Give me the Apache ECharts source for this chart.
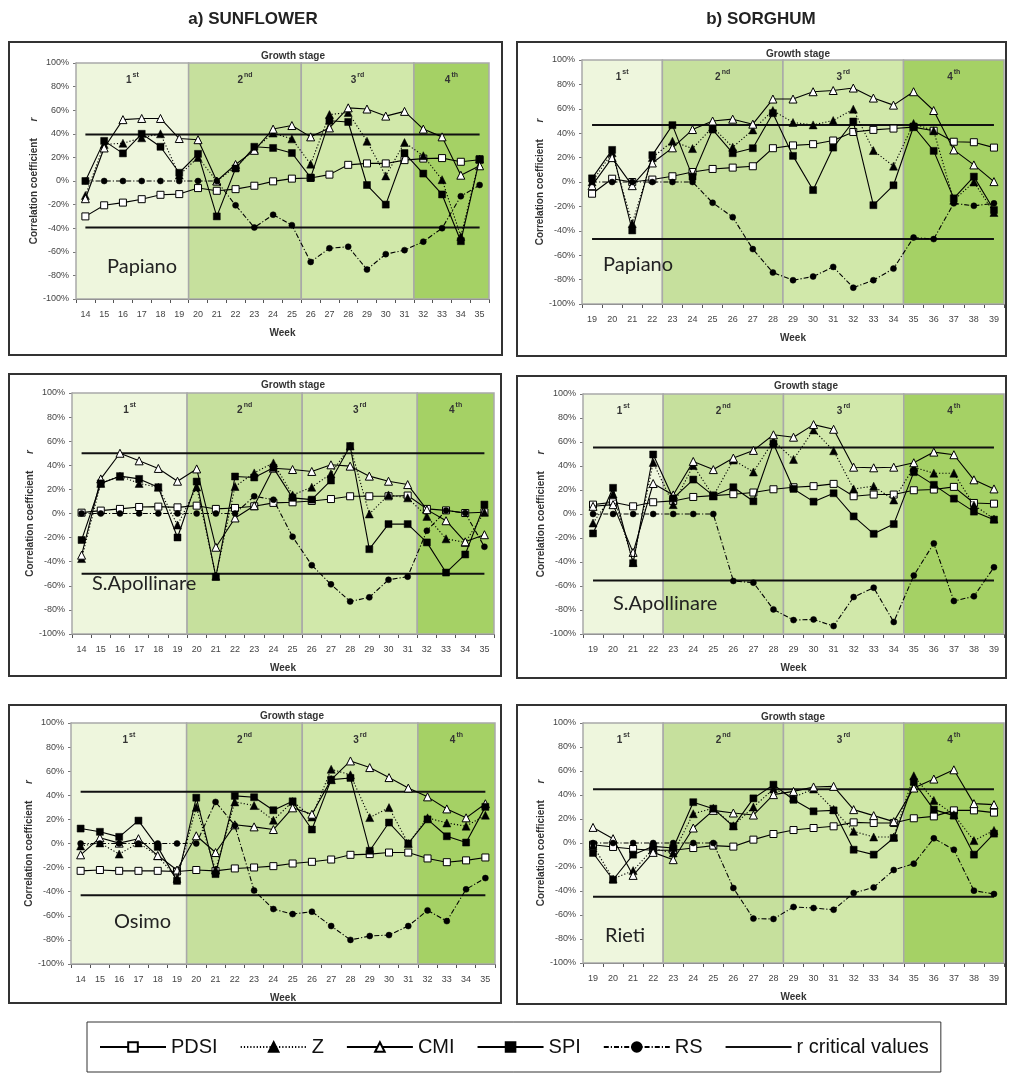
<!DOCTYPE html>
<html><head><meta charset="utf-8">
<script src="https://cdn.jsdelivr.net/npm/echarts@6/dist/echarts.min.js"></script>
<style>html,body{margin:0;padding:0;background:#fff}#c{width:1012px;height:1077px}</style>
</head><body><div id="c"></div><script>
// ---------- categories ----------
const sunflowerWeeks = ['14','15','16','17','18','19','20','21','22','23','24','25','26','27','28','29','30','31','32','33','34','35'];
const sorghumWeeks = ['19','20','21','22','23','24','25','26','27','28','29','30','31','32','33','34','35','36','37','38','39'];
// growth stages: [first week, last week]
const sunflowerStages = [[14,19],[20,25],[26,31],[32,35]];
const sorghumStages = [[19,22],[23,28],[29,34],[35,39]];
const stageNumbers = ['1','2','3','4'];
const stageSuffixes = ['st','nd','rd','th'];
const seriesNames = ['PDSI','Z','CMI','SPI','RS'];
const yTicks = [-100,-80,-60,-40,-20,0,20,40,60,80,100];

// ---------- a) Sunflower – Papiano (%) ----------
const sunPapianoPDSI = [-30,-20.6,-18.3,-15.4,-11.7,-11.1,-6,-8.3,-6.9,-4,-0.3,2,2.6,5.4,13.7,14.9,14.9,17.7,19,19.4,16.3,18];
const sunPapianoZ    = [-12.3,31,32,36.6,40,5,20,0,12,27,40.6,35.7,14.3,56.3,58,33.7,4.3,32.6,21.4,1.1,-47,18.6];
const sunPapianoCMI  = [-15,28,52,53,53,36,35,0,14,26,44,47,37.4,45,62,61,55,59,44,37.4,4.9,12.9];
const sunPapianoSPI  = [0,34,23.4,40,29,7,23,-30,10.6,29,28,23.7,2.9,51,50,-3.4,-20,23.7,6.3,-11.4,-51,18.6];
const sunPapianoRS   = [0,0,0,0,0,0,0,0,-20.6,-39.4,-28.6,-37.4,-68.6,-57,-55.7,-75,-62,-58.6,-51.4,-40,-12.9,-3.4];
const sunPapianoCrit = 39.5;

// ---------- b) Sorghum – Papiano ----------
const sorPapianoPDSI = [-9.6,2.7,0,2,4.7,8.2,10.7,11.8,12.9,27.7,30,31,34,41,42.7,43.8,45,42,33,32.6,28.2];
const sorPapianoZ    = [0,24,-34,20,33.4,27.4,45,28.5,42.7,58.6,48.8,46.8,50.4,59.7,25.8,13,48,42,-15,0,-25];
const sorPapianoCMI  = [-3,20,-3,15.6,28,43,50,51.5,47.4,68,68,74,75,77,68.8,63,74,58.6,26.3,14,0.3];
const sorPapianoSPI  = [3,26.3,-39.7,22,46.6,4.4,43,23.6,27.7,56.4,21.4,-6.6,28.2,49.6,-19,-2.7,45.5,25.5,-13.4,4.4,-23];
const sorPapianoRS   = [0,0,0,0,0,0,-17,-28.8,-55,-74.2,-80.5,-77.5,-69.6,-86.6,-80.5,-71,-45.5,-46.8,-17.5,-19.5,-17.5];
const sorPapianoCrit = 46.8;

// ---------- a) Sunflower – S.Apollinare ----------
const sunApolPDSI = [0.7,2.4,3.8,5.4,5.7,5.1,6.5,3.8,4.6,6,8.8,9.3,10.4,12,14.3,14.3,14.3,14.9,3.8,2.6,0.4,1];
const sunApolZ    = [-37.4,25,31,25,21.8,-9.6,22,-52,22.4,33.7,42,15.4,21.8,33,56,-0.4,15.4,13,-2.4,-21,-24,1];
const sunApolCMI  = [-34.6,28.7,50,43.7,37.4,26.8,37,-28,-3.7,6.5,37.6,36.5,34.9,40.4,39.3,31,26.8,24,3.2,-6,-23.5,-17.6];
const sunApolSPI  = [-22,25,31,28.7,21.8,-19.9,26.5,-52.6,30.7,29.9,37.9,13,11.5,27.4,56,-29.6,-8.8,-8.8,-24,-49,-34,7.4];
const sunApolRS   = [0,0,0,0,0,0,0,0,0,14.3,11.5,-19.3,-42.9,-58.8,-73,-69.6,-55,-52.4,-14.3,2.4,0.4,-27.6];
const sunApolCrit = 50;

// ---------- b) Sorghum – S.Apollinare ----------
const sorApolPDSI = [7.8,9.8,6.4,9.8,10.9,14.2,15.3,16.5,17.9,20.6,22.3,23.2,25.1,14.8,16.2,16.2,19.8,20.4,22.6,9.2,8.6];
const sorApolZ    = [-7.5,16.7,-40.4,43,7.8,40.4,15,45,35,61,45.5,70,52.7,20.9,23.2,11.7,39,34,34,7.5,-4.2];
const sorApolCMI  = [6.4,7.8,-32,25.4,15.9,43.8,37,46.6,53,66,64,74.5,70.6,39,38.5,39,42.7,51.6,49.4,28.5,20.9];
const sorApolSPI  = [-16.2,21.8,-41,49.6,13,28.7,15.3,22.3,10.6,58.6,20.9,10.3,17.3,-2,-16.5,-8.4,34.9,24.3,12.8,2,-4.7];
const sorApolRS   = [0,0,0,0,0,0,0,-55.8,-57.2,-79.5,-88.4,-87.9,-93.4,-69.2,-61.4,-90,-51.3,-24.5,-72.5,-68.6,-44.4];
const sorApolCrit = 55.5;

// ---------- a) Sunflower – Osimo ----------
const sunOsimoPDSI = [-22.7,-22,-22.7,-22.7,-22.7,-23.2,-22,-22.7,-20.7,-19.9,-18.8,-16.6,-15.2,-13.3,-9.4,-8.8,-7.5,-7.5,-12.4,-15.5,-14,-11.6];
const sunOsimoZ    = [-2,0.5,-8.8,0.5,-10.2,-29,30,-22,34.5,31.5,19.3,34.8,22,61.6,57,21.5,29.8,0,21.3,17,14.4,23.5];
const sunOsimoCMI  = [-9.4,4.7,0.3,4,-10,-22,6.4,-7.5,15.5,13.8,11.6,29.6,24.3,53,68.5,63,54.7,46,38.7,28.7,21.3,33];
const sunOsimoSPI  = [12.4,9.7,5.5,19,-2.8,-31,38,-25.4,39.5,38.4,27.6,35,11.6,53,54.4,-6,17.4,0,20,6,0.8,30.4];
const sunOsimoRS   = [0,0,0,0,0,0,0,34.5,15,-39,-54.4,-58.6,-56.6,-68.5,-80,-76.8,-76,-68.5,-55.5,-64.4,-38,-28.7];
const sunOsimoCrit = 43;

// ---------- b) Sorghum – Rieti ----------
const sorRietiPDSI = [-1.4,-3.3,-5,-6.1,-6.1,-4.2,-2.2,-3,2.8,7.5,10.8,12.5,13.9,17.2,16.7,16.7,20.6,22.2,27.2,27.2,25.3];
const sorRietiZ    = [-2,-30,-23,-4.7,-8.3,24.4,29,14.4,30,45,38,45,28,9.7,5,5,56,35.5,23.6,2,10.5];
const sorRietiCMI  = [13,3.6,-27,-7.8,-13.9,12.5,27.2,25,23.3,40.3,43,46.7,47.2,27.8,22.8,17.8,45.8,53.3,61,32.8,32];
const sorRietiSPI  = [-8.3,-30.6,-9.7,-2.8,-4.2,34,28.6,13.9,37.2,48.6,36,26.4,27.2,-5.6,-9.7,4.2,50.8,27.8,22.8,-9.7,7.8];
const sorRietiRS   = [0,0,0,0,0,0,0,-37.5,-63,-63.3,-53.3,-54.2,-55.6,-41.7,-37,-22.5,-17.2,3.9,-5.6,-39.7,-42.5];
const sorRietiCrit = 44.7;

// ---------- panel content ----------
const panelData = [
  {weeks: sunflowerWeeks, stages: sunflowerStages, place: 'Papiano', crit: sunPapianoCrit, values: [sunPapianoPDSI, sunPapianoZ, sunPapianoCMI, sunPapianoSPI, sunPapianoRS]},
  {weeks: sorghumWeeks, stages: sorghumStages, place: 'Papiano', crit: sorPapianoCrit, values: [sorPapianoPDSI, sorPapianoZ, sorPapianoCMI, sorPapianoSPI, sorPapianoRS]},
  {weeks: sunflowerWeeks, stages: sunflowerStages, place: 'S.Apollinare', crit: sunApolCrit, values: [sunApolPDSI, sunApolZ, sunApolCMI, sunApolSPI, sunApolRS]},
  {weeks: sorghumWeeks, stages: sorghumStages, place: 'S.Apollinare', crit: sorApolCrit, values: [sorApolPDSI, sorApolZ, sorApolCMI, sorApolSPI, sorApolRS]},
  {weeks: sunflowerWeeks, stages: sunflowerStages, place: 'Osimo', crit: sunOsimoCrit, values: [sunOsimoPDSI, sunOsimoZ, sunOsimoCMI, sunOsimoSPI, sunOsimoRS]},
  {weeks: sorghumWeeks, stages: sorghumStages, place: 'Rieti', crit: sorRietiCrit, values: [sorRietiPDSI, sorRietiZ, sorRietiCMI, sorRietiSPI, sorRietiRS]}
];

// ---------- layout (pixels) ----------
const panelLayout = [
  {grid: {left: 76, top: 63, width: 413, height: 236}, box: [9, 42, 493, 313], stageTitle: [293, 56], placePos: [107, 267]},
  {grid: {left: 582, top: 60, width: 422, height: 244}, box: [517, 42, 489, 314], stageTitle: [798, 54], placePos: [603, 265]},
  {grid: {left: 72, top: 393, width: 422, height: 241}, box: [9, 374, 492, 302], stageTitle: [293, 385], placePos: [92, 584]},
  {grid: {left: 583, top: 394, width: 421, height: 240}, box: [517, 376, 489, 302], stageTitle: [806, 386], placePos: [613, 604]},
  {grid: {left: 71, top: 723, width: 424, height: 241}, box: [9, 705, 492, 298], stageTitle: [292, 716], placePos: [114, 922]},
  {grid: {left: 583, top: 723, width: 421, height: 240}, box: [517, 705, 489, 299], stageTitle: [793, 717], placePos: [605, 936]}
];

const stageColors = ['#eef6dd', '#c6e09d', '#d1e8aa', '#a5d165'];
const FONT = 'Liberation Sans, Arial, sans-serif';

const seriesStyles = {
  PDSI: {symbol: 'rect', symbolSize: 7, itemStyle: {color: '#fff', borderColor: '#000', borderWidth: 1}, lineStyle: {color: '#000', width: 1.1, type: 'solid'}},
  Z:    {symbol: 'triangle', symbolSize: 8, itemStyle: {color: '#000', borderColor: '#000', borderWidth: 0.5}, lineStyle: {color: '#000', width: 1.1, type: [1.2, 2]}},
  CMI:  {symbol: 'triangle', symbolSize: 8, itemStyle: {color: '#fff', borderColor: '#000', borderWidth: 1}, lineStyle: {color: '#000', width: 1.1, type: 'solid'}},
  SPI:  {symbol: 'rect', symbolSize: 7, itemStyle: {color: '#000', borderColor: '#000', borderWidth: 0.5}, lineStyle: {color: '#000', width: 1.1, type: 'solid'}},
  RS:   {symbol: 'circle', symbolSize: 6, itemStyle: {color: '#000', borderColor: '#000', borderWidth: 0.5}, lineStyle: {color: '#000', width: 1.1, type: [5, 2, 1.2, 2]}}
};

const grids = [], xAxes = [], yAxes = [], series = [], graphics = [];

panelData.forEach((p, i) => {
  const L = panelLayout[i];
  grids.push(Object.assign({containLabel: false}, L.grid));
  const catIdx = xAxes.length;
  xAxes.push({
    type: 'category', gridIndex: i, data: p.weeks, boundaryGap: true, position: 'bottom',
    name: 'Week', nameLocation: 'middle', nameGap: 29,
    nameTextStyle: {fontFamily: FONT, fontSize: 10, fontWeight: 'bold', color: '#333'},
    axisLine: {onZero: false, lineStyle: {color: '#555', width: 1}},
    axisTick: {show: true, interval: 0, length: 4, lineStyle: {color: '#555'}},
    axisLabel: {interval: 0, fontFamily: FONT, fontSize: 9, color: '#444', margin: 11},
    splitLine: {show: false}
  });
  const bgIdx = xAxes.length;
  const first = p.stages[0][0], last = p.stages[p.stages.length - 1][1];
  xAxes.push({type: 'value', gridIndex: i, min: first - 0.5, max: last + 0.5, show: false});
  yAxes.push({
    type: 'value', gridIndex: i, min: yTicks[0], max: yTicks[yTicks.length - 1], interval: yTicks[1] - yTicks[0],
    name: 'Correlation coefficient      {i|r}', nameLocation: 'middle', nameGap: 37,
    nameTextStyle: {fontFamily: FONT, fontSize: 10, fontWeight: 'bold', color: '#333',
      rich: {i: {fontFamily: FONT, fontSize: 10, fontStyle: 'italic', fontWeight: 'bold', color: '#333'}}},
    axisLine: {show: true, lineStyle: {color: '#777', width: 1}},
    axisTick: {show: true, length: 3, lineStyle: {color: '#777'}},
    axisLabel: {fontFamily: FONT, fontSize: 9, color: '#444', margin: 7, formatter: '{value}%'},
    splitLine: {show: false}
  });
  // growth-stage background bands
  series.push({
    type: 'line', name: 'stage' + i, xAxisIndex: bgIdx, yAxisIndex: i, data: [], silent: true, z: 0,
    markArea: {
      silent: true,
      itemStyle: {borderColor: '#a9a9a9', borderWidth: 1.5},
      label: {
        show: true, position: 'insideTop', distance: 9,
        formatter: (prm) => prm.name,
        rich: {
          n: {fontFamily: FONT, fontSize: 10, fontWeight: 'bold', color: '#333', lineHeight: 14, verticalAlign: 'bottom'},
          s: {fontFamily: FONT, fontSize: 7, fontWeight: 'bold', color: '#333', lineHeight: 14, verticalAlign: 'top', padding: [0, 0, 5, 1]}
        }
      },
      data: p.stages.map((s, k) => [
        {name: '{n|' + stageNumbers[k] + '}{s|' + stageSuffixes[k] + '}', xAxis: s[0] - 0.5, itemStyle: {color: stageColors[k]}},
        {xAxis: s[1] + 0.5}
      ])
    }
  });
  // critical values
  [p.crit, -p.crit].forEach(v => {
    series.push({
      type: 'line', name: 'r critical values', xAxisIndex: catIdx, yAxisIndex: i, z: 3,
      data: [[p.weeks[0], v], [p.weeks[p.weeks.length - 1], v]],
      symbol: 'none', silent: true, itemStyle: {color: '#111'},
      lineStyle: {color: '#111', width: 2}, emphasis: {disabled: true}
    });
  });
  // indices
  seriesNames.forEach((nm, k) => {
    const st = seriesStyles[nm];
    series.push({
      type: 'line', name: nm, xAxisIndex: catIdx, yAxisIndex: i, z: 4 + k,
      data: p.values[k], symbol: st.symbol, symbolSize: st.symbolSize, showSymbol: true,
      itemStyle: st.itemStyle, lineStyle: st.lineStyle, silent: true, emphasis: {disabled: true}
    });
  });
  // panel frame and texts
  graphics.push({type: 'rect', shape: {x: L.box[0], y: L.box[1], width: L.box[2], height: L.box[3]},
    style: {fill: 'none', stroke: '#333', lineWidth: 2}, silent: true});
  graphics.push({type: 'text', x: L.stageTitle[0], y: L.stageTitle[1], silent: true, z: 10,
    style: {text: 'Growth stage', font: 'bold 10px ' + FONT, fill: '#333', textAlign: 'center', textVerticalAlign: 'middle'}});
  graphics.push({type: 'text', x: L.placePos[0], y: L.placePos[1], silent: true, z: 10,
    style: {text: p.place, font: '20px Lato, "Open Sans", sans-serif', fill: '#222', textAlign: 'left', textVerticalAlign: 'middle'}});
});

graphics.push({type: 'text', x: 253, y: 19, silent: true,
  style: {text: 'a) SUNFLOWER', font: 'bold 17px ' + FONT, fill: '#222', textAlign: 'center', textVerticalAlign: 'middle'}});
graphics.push({type: 'text', x: 761, y: 19, silent: true,
  style: {text: 'b) SORGHUM', font: 'bold 17px ' + FONT, fill: '#222', textAlign: 'center', textVerticalAlign: 'middle'}});

const option = {
  animation: false,
  backgroundColor: '#fff',
  textStyle: {fontFamily: FONT},
  grid: grids, xAxis: xAxes, yAxis: yAxes, series: series, graphic: graphics,
  legend: {
    data: ['PDSI', 'Z', 'CMI', 'SPI', 'RS', {name: 'r critical values', itemStyle: {opacity: 0}}],
    left: 87, top: 1022, orient: 'horizontal',
    itemWidth: 66, itemHeight: 12, itemGap: 22,
    padding: [15, 12, 15, 12],
    borderColor: '#333', borderWidth: 1,
    lineStyle: {width: 2},
    textStyle: {fontFamily: FONT, fontSize: 20, color: '#111'},
    selectedMode: false
  }
};

const chart = echarts.init(document.getElementById('c'), null, {renderer: 'canvas'});
chart.setOption(option);
</script></body></html>
